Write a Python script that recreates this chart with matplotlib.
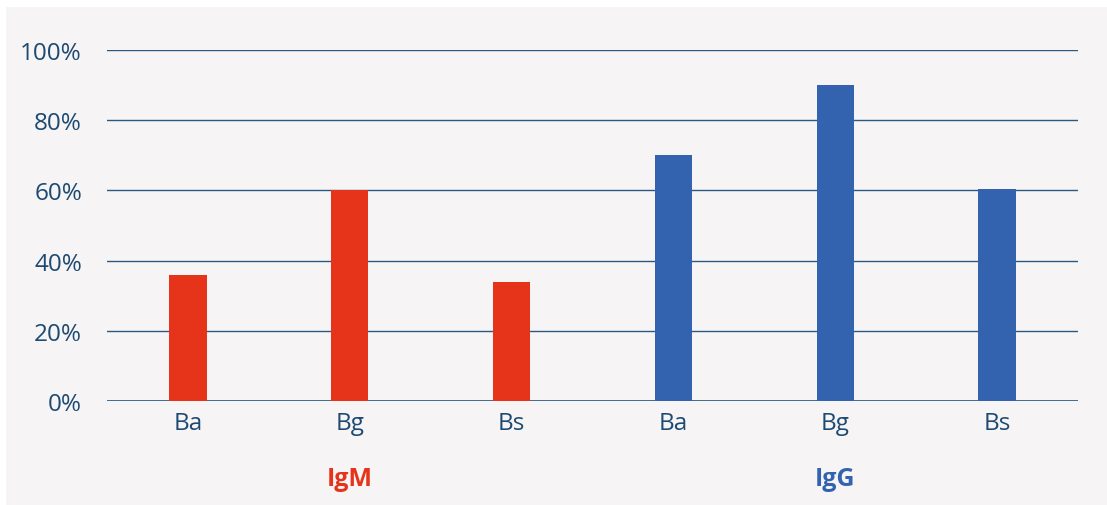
import matplotlib.pyplot as plt
from matplotlib.patches import Rectangle
from matplotlib.ticker import FuncFormatter

# data
tick_labels = ["Ba", "Bg", "Bs", "Ba", "Bg", "Bs"]
igm_values = [36, 60, 34]
igg_values = [70, 90, 60.5]
groups = ["IgM", "IgG"]

RED = "#E5341A"
BLUE = "#3363AE"
TEXT = "#1E4A72"
GRID = "#2A5A82"
PANEL = "#F6F4F5"


def main() -> None:
    plt.rcParams["font.family"] = ["Open Sans", "DejaVu Sans"]

    fig = plt.figure(figsize=(11.07, 5.06), dpi=100, facecolor="white")
    fig.patches.append(Rectangle((6 / 1107, 0), 1 - 6 / 1107, 1 - 8 / 506,
                                 transform=fig.transFigure, facecolor=PANEL,
                                 edgecolor="none", zorder=-10))
    ax = fig.add_axes([107 / 1107, 1 - 402 / 506, 971 / 1107, 351 / 506])
    ax.set_facecolor("none")
    ax.set_zorder(5)

    values = igm_values + igg_values
    colors = [RED] * len(igm_values) + [BLUE] * len(igg_values)
    x = list(range(len(values)))
    ax.bar(x, values, width=0.23, color=colors, zorder=3)

    ax.set_xlim(-0.5, len(values) - 0.5)
    ax.set_ylim(0, 100)
    ax.set_yticks(range(0, 101, 20))
    ax.yaxis.set_major_formatter(FuncFormatter(lambda v, _: f"{v:.0f}%"))
    ax.set_xticks(x, tick_labels)
    ax.tick_params(axis="both", length=0, labelsize=17.5, colors=TEXT)
    ax.tick_params(axis="y", pad=18)
    ax.tick_params(axis="x", pad=7)
    ax.grid(axis="y", color=GRID, linewidth=1.0, zorder=1)
    ax.set_axisbelow(True)
    for side in ["top", "right", "left", "bottom"]:
        ax.spines[side].set_visible(False)
    ax.axhline(0, color=GRID, linewidth=1.2, zorder=2)

    ax.text(1, -0.222, groups[0], transform=ax.get_xaxis_transform(),
            ha="center", va="center", fontsize=18, fontweight="bold", color=RED)
    ax.text(4, -0.222, groups[1], transform=ax.get_xaxis_transform(),
            ha="center", va="center", fontsize=18, fontweight="bold", color=BLUE)

    fig.savefig("out.png", dpi=100, facecolor="white")


if __name__ == "__main__":
    main()
